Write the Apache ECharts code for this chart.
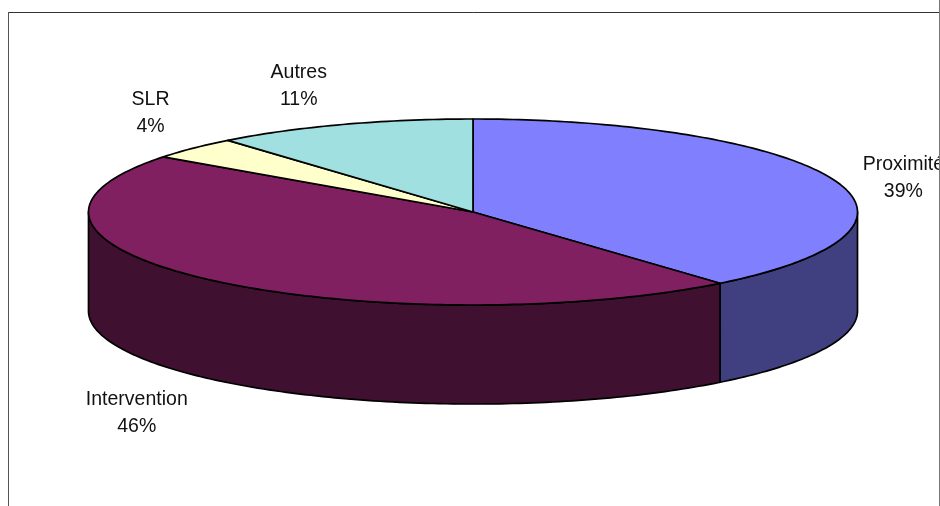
<!DOCTYPE html>
<html>
<head>
<meta charset="utf-8">
<style>html,body{margin:0;padding:0;background:#fff}#c{width:940px;height:506px}</style>
<script src="https://cdn.jsdelivr.net/npm/echarts@6/dist/echarts.min.js"></script>
</head>
<body>
<div id="c"></div>
<script>
const categories = ['Proximité', 'Intervention', 'SLR', 'Autres'];
const values = [38.9, 46.2, 3.9, 11.0];
const topColors = ['#8080FF', '#802060', '#FFFFCC', '#A0E0E0'];
const wallColors = ['#404080', '#401030', '#808066', '#507070'];
const labelOffsets = [[69, -2.5], [-73, 133], [-43, -34.5], [-44, -38.5]];

const cx = 473, cy = 212, rx = 384.5, ry = 93, depth = 99;
const total = values.reduce((a, b) => a + b, 0);
const pt = (deg, dy) => {
  const r = deg * Math.PI / 180;
  return [cx + rx * Math.sin(r), cy - ry * Math.cos(r) + (dy || 0)];
};
const arc = (from, to, dy) => {
  const pts = [];
  const n = Math.max(1, Math.ceil(Math.abs(to - from)));
  for (let k = 0; k <= n; k++) pts.push(pt(from + (to - from) * k / n, dy));
  return pts;
};
const lineStyle = { stroke: '#000', lineWidth: 1.7, lineJoin: 'round' };

function renderItem(params, api) {
  const i = params.dataIndex;
  let before = 0;
  for (let k = 0; k < i; k++) before += values[k];
  const v = api.value(0);
  const a0 = before / total * 360, a1 = (before + v) / total * 360, mid = (a0 + a1) / 2;
  const children = [];
  const w0 = Math.max(a0, 90), w1 = Math.min(a1, 270);
  if (w1 > w0) {
    children.push({
      type: 'polygon',
      shape: { points: arc(w0, w1, 0).concat(arc(w1, w0, depth)) },
      style: Object.assign({ fill: wallColors[i] }, lineStyle)
    });
  }
  children.push({
    type: 'polygon',
    shape: { points: [[cx, cy]].concat(arc(a0, a1, 0)) },
    style: Object.assign({ fill: topColors[i] }, lineStyle)
  });
  const p = pt(mid, 0);
  children.push({
    type: 'text',
    x: p[0] + labelOffsets[i][0],
    y: p[1] + labelOffsets[i][1],
    style: {
      text: categories[i] + '\n' + Math.round(v) + '%',
      fill: '#111',
      font: '19.5px "Liberation Sans", Arial, sans-serif',
      lineHeight: 27,
      align: 'center',
      verticalAlign: 'middle'
    }
  });
  return { type: 'group', children };
}

const chart = echarts.init(document.getElementById('c'));
chart.setOption({
  animation: false,
  backgroundColor: '#fff',
  series: [{
    type: 'custom',
    coordinateSystem: 'none',
    silent: true,
    renderItem,
    clip: false,
    data: values.map(v => [v])
  }],
  graphic: [
    { type: 'rect', z: 100, shape: { x: 939, y: 0, width: 1, height: 506 }, style: { fill: '#777' } },
    { type: 'line', z: 100, shape: { x1: 8.5, y1: 12.5, x2: 939, y2: 12.5 }, style: { stroke: '#333', lineWidth: 1 } },
    { type: 'line', z: 100, shape: { x1: 8.5, y1: 12, x2: 8.5, y2: 506 }, style: { stroke: '#555', lineWidth: 1 } }
  ]
});
</script>
</body>
</html>
